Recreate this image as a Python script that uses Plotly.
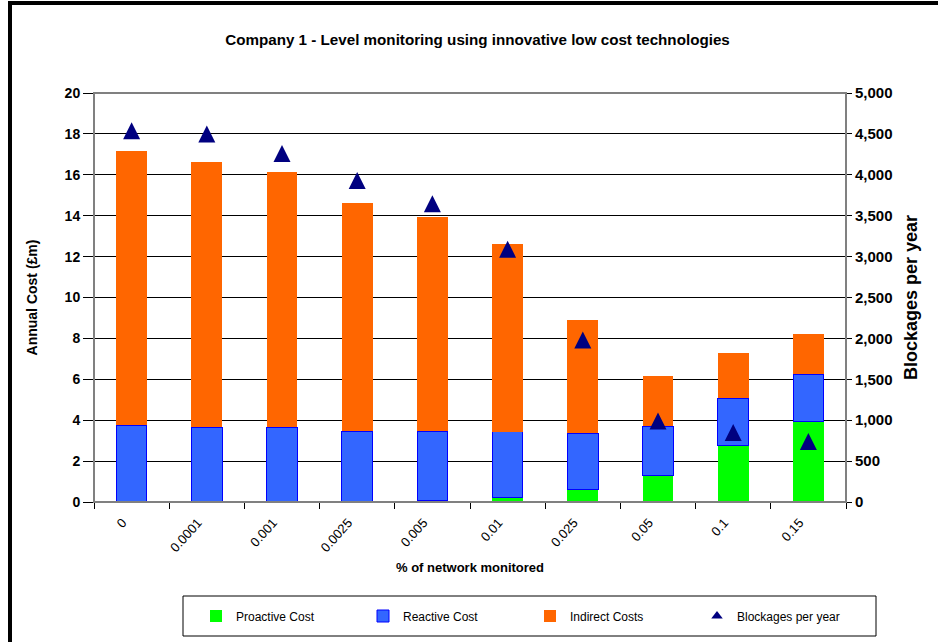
import plotly.graph_objects as go

# Share of the sewer network fitted with low-cost level monitors (%)
categories = ["0", "0.0001", "0.001", "0.0025", "0.005", "0.01", "0.025", "0.05", "0.1", "0.15"]

# Annual cost components (£m)
proactive_cost = [0.00, 0.00, 0.03, 0.03, 0.08, 0.23, 0.62, 1.32, 2.75, 3.92]
reactive_cost = [3.76, 3.66, 3.63, 3.44, 3.39, 3.20, 2.75, 2.39, 2.33, 2.33]
indirect_costs = [13.42, 12.98, 12.49, 11.15, 10.45, 9.17, 5.53, 2.47, 2.20, 1.96]

# Blockages per year (secondary axis)
blockages = [4540, 4500, 4260, 3930, 3645, 3090, 1980, 990, 850, 740]

FONT = "Liberation Sans, Arial, sans-serif"
W, H = 938, 642
ML, MR, MT, MB = 94, 92, 93, 140
PW, PH = W - ML - MR, H - MT - MB
NAVY = "#000080"


def px_x(px):
    return (px - ML) / PW


def px_y(py):
    return (H - MB - py) / PH


fig = go.Figure()

fig.add_trace(go.Bar(
    x=categories, y=proactive_cost, name="Proactive Cost",
    marker=dict(color="#00FF00", line=dict(width=0)),
))
fig.add_trace(go.Bar(
    x=categories, y=reactive_cost, name="Reactive Cost",
    marker=dict(color="#3366FF", line=dict(color="#0000FF", width=1)),
))
fig.add_trace(go.Bar(
    x=categories, y=indirect_costs, name="Indirect Costs",
    marker=dict(color="#FF6600", line=dict(width=0)),
))

# Upward triangles centred on each value: an arrow flipped by 180 degrees,
# pushed back by half its height so its box is centred on the point.
tri = 17
fig.add_trace(go.Scatter(
    x=categories, y=blockages, name="Blockages per year", yaxis="y2",
    mode="markers", showlegend=False, legendgroup="blk",
    marker=dict(symbol="arrow-down", angle=180, standoff=tri / 2, size=tri,
                color=NAVY, line=dict(width=0)),
))
# legend key for the blockage markers
fig.add_trace(go.Scatter(
    x=[None], y=[None], name="Blockages per year", yaxis="y2",
    mode="markers", legendgroup="blk",
    marker=dict(symbol="triangle-up", size=10, color=NAVY, line=dict(width=0)),
))

fig.update_layout(
    width=W, height=H,
    barmode="stack", bargap=0.592,
    paper_bgcolor="white", plot_bgcolor="white",
    margin=dict(l=ML, r=MR, t=MT, b=MB, autoexpand=False),
    font=dict(family=FONT, color="black"),
    title=dict(
        text="Company 1 - Level monitoring using innovative low cost technologies",
        font=dict(family=FONT, size=15.2, weight="bold", color="black"),
        x=477.5 / W, xref="container", xanchor="center",
        y=1 - 40 / H, yref="container", yanchor="middle",
    ),
    xaxis=dict(
        type="category", range=[-0.5, len(categories) - 0.5], showgrid=False,
        showline=True, linecolor="black", linewidth=1,
        ticks="outside", ticklen=6, tickcolor="black", tickson="boundaries",
        tickangle=-48, tickfont=dict(family=FONT, size=13),
        ticklabelshift=-9, ticklabelstandoff=7,
        title=dict(text="% of network monitored", standoff=8,
                   font=dict(family=FONT, size=13, weight="bold")),
    ),
    yaxis=dict(
        range=[0, 20], dtick=2, showgrid=True, gridcolor="black", gridwidth=1,
        zeroline=False, showline=True, linecolor="black", linewidth=1,
        ticks="outside", ticklen=10, tickcolor="black",
        tickfont=dict(family=FONT, size=14, weight="bold"),
        title=dict(text="Annual Cost (£m)", standoff=23,
                   font=dict(family=FONT, size=14, weight="bold")),
    ),
    yaxis2=dict(
        overlaying="y", side="right", range=[0, 5000], dtick=500,
        tickformat=",d", showgrid=False, zeroline=False,
        showline=True, linecolor="black", linewidth=1,
        ticks="outside", ticklen=5, tickcolor="black",
        tickfont=dict(family=FONT, size=15, weight="bold"),
        title=dict(text="Blockages per year", standoff=12,
                   font=dict(family=FONT, size=18, weight="bold")),
    ),
    legend=dict(
        orientation="h", x=px_x(196), y=px_y(616), xanchor="left", yanchor="middle",
        borderwidth=0, bgcolor="rgba(0,0,0,0)",
        font=dict(family=FONT, size=12), entrywidth=122, entrywidthmode="pixels",
        traceorder="normal",
    ),
    shapes=[
        # plot-area border
        dict(type="rect", xref="paper", yref="paper", x0=0, x1=1, y0=0, y1=1,
             line=dict(color="#808080", width=2), layer="above"),
        # legend box
        dict(type="rect", xref="paper", yref="paper",
             x0=px_x(183), x1=px_x(876), y0=px_y(596), y1=px_y(636),
             line=dict(color="black", width=1), fillcolor="white", layer="below"),
        # outer chart frame (left and top edges)
        dict(type="line", xref="paper", yref="paper",
             x0=px_x(10), x1=px_x(10), y0=px_y(1), y1=px_y(H + 10),
             line=dict(color="black", width=4)),
        dict(type="line", xref="paper", yref="paper",
             x0=px_x(8), x1=px_x(W + 10), y0=px_y(3), y1=px_y(3),
             line=dict(color="black", width=4)),
    ],
)

fig.write_html("out.html")
